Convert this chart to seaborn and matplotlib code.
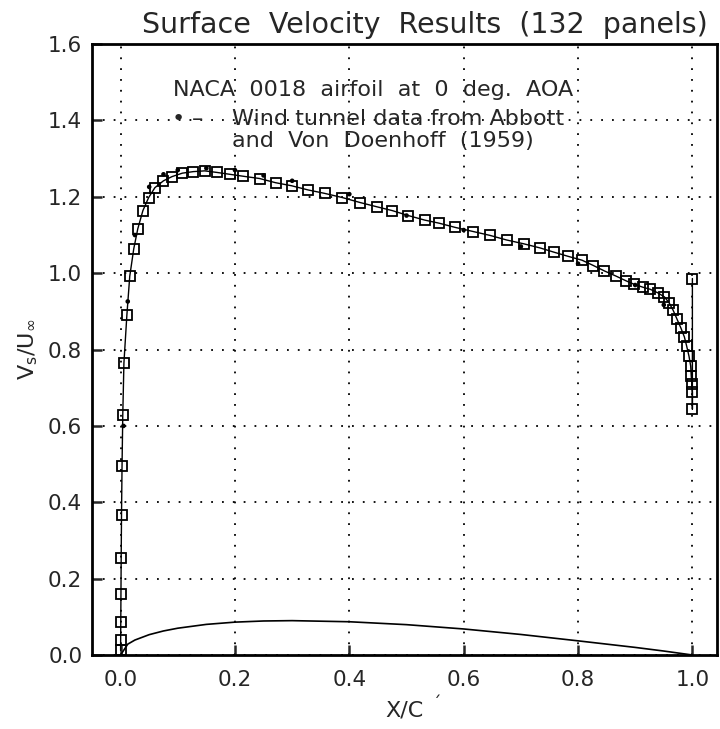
import numpy as np
import pandas as pd
import seaborn as sns
import matplotlib
matplotlib.use("Agg")
import matplotlib.pyplot as plt
from matplotlib.ticker import FormatStrFormatter

# panel-method surface velocity (132 panels), LE -> TE
panel_x = [0.0000, 0.0001, 0.0003, 0.0006, 0.0010, 0.0016, 0.0025, 0.0038, 0.0058,
           0.011, 0.016, 0.023, 0.030, 0.039, 0.049, 0.060, 0.075, 0.090, 0.108,
           0.127, 0.147, 0.168, 0.191, 0.214, 0.243, 0.271, 0.299, 0.328, 0.357,
           0.388, 0.419, 0.448, 0.475, 0.503, 0.532, 0.557, 0.585, 0.617, 0.646,
           0.675, 0.705, 0.734, 0.758, 0.783, 0.807, 0.827, 0.846, 0.867, 0.884,
           0.898, 0.914, 0.926, 0.939, 0.951, 0.959, 0.966, 0.973, 0.980, 0.986,
           0.990, 0.994, 0.997, 0.998, 0.999, 1.000, 1.000, 1.000]
panel_v = [0.012, 0.038, 0.086, 0.159, 0.253, 0.367, 0.494, 0.629, 0.765,
           0.891, 0.992, 1.064, 1.116, 1.164, 1.198, 1.224, 1.242, 1.253, 1.262,
           1.266, 1.268, 1.264, 1.259, 1.254, 1.248, 1.237, 1.229, 1.218, 1.209,
           1.198, 1.185, 1.174, 1.164, 1.151, 1.139, 1.131, 1.120, 1.109, 1.099,
           1.087, 1.077, 1.066, 1.055, 1.044, 1.034, 1.020, 1.006, 0.992, 0.980,
           0.971, 0.963, 0.958, 0.949, 0.938, 0.923, 0.904, 0.880, 0.856, 0.833,
           0.809, 0.783, 0.757, 0.731, 0.710, 0.688, 0.644, 0.986]

# wind tunnel data, Abbott and Von Doenhoff (1959)
wt_x = [0.005, 0.0125, 0.025, 0.05, 0.075, 0.10, 0.15, 0.20, 0.25, 0.30,
        0.40, 0.50, 0.60, 0.70, 0.80, 0.90, 0.95]
wt_v = [0.60, 0.926, 1.100, 1.226, 1.259, 1.270, 1.275, 1.270, 1.256, 1.242,
        1.207, 1.151, 1.113, 1.070, 1.025, 0.969, 0.917]

# NACA 0018 upper surface contour
foil_x = [0.0, 0.0125, 0.025, 0.05, 0.075, 0.10, 0.15, 0.20, 0.25, 0.30,
          0.40, 0.50, 0.60, 0.70, 0.80, 0.90, 0.95, 1.0]
foil_y = [0.0, 0.0284, 0.0392, 0.0533, 0.0630, 0.0702, 0.0802, 0.0861, 0.0891,
          0.0900, 0.0871, 0.0795, 0.0682, 0.0538, 0.0371, 0.0199, 0.0104, 0.0]

xticks = [0.0, 0.2, 0.4, 0.6, 0.8, 1.0]
yticks = [0.0, 0.2, 0.4, 0.6, 0.8, 1.0, 1.2, 1.4, 1.6]


def wide(s):
    # plotter lettering has generous word gaps
    return s.replace(" ", "  ")


sns.set_style("ticks")
plt.rcParams['font.family'] = ['DejaVu Sans']
plt.rcParams['mathtext.default'] = 'regular'

fig = plt.figure(figsize=(7.2, 7.29), dpi=100)
ax = fig.add_axes([0.1278, 0.1015, 0.868, 0.838])

panels = pd.DataFrame({"x": panel_x, "v": panel_v})
wind = pd.DataFrame({"x": wt_x, "v": wt_v})
foil = pd.DataFrame({"x": foil_x, "y": foil_y})

sns.lineplot(data=foil, x="x", y="y", ax=ax, color="black", lw=1.2,
             sort=False, estimator=None)
sns.lineplot(data=panels, x="x", y="v", ax=ax, color="black", lw=1.0,
             sort=False, estimator=None, marker="s", markersize=7.5,
             markerfacecolor="none", markeredgecolor="black", markeredgewidth=1.3)
sns.scatterplot(data=wind, x="x", y="v", ax=ax, color="black", s=11,
                edgecolor="none", zorder=5)

ax.set_xlim(-0.05, 1.043)
ax.set_ylim(0.0, 1.6)
ax.set_xticks(xticks)
ax.set_yticks(yticks)
ax.xaxis.set_major_formatter(FormatStrFormatter('%.1f'))
ax.yaxis.set_major_formatter(FormatStrFormatter('%.1f'))
ax.grid(True, color="black", linestyle=(0, (1, 5)), linewidth=1.3)
ax.tick_params(direction="in", length=7, width=1.8, labelsize=15.5)
ax.tick_params(axis="x", pad=11)
ax.tick_params(axis="y", pad=7)
for sp in ax.spines.values():
    sp.set_linewidth(2)
    sp.set_color("black")

ax.set_xlabel("X/C", fontsize=16, labelpad=7)
ax.set_ylabel("$V_s/U_\\infty$", fontsize=16, labelpad=6)
fig.text(0.59, 0.966, wide("Surface Velocity Results (132 panels)"),
         fontsize=20.5, ha="center", va="center")
fig.text(0.607, 0.034, "\u02ca", fontsize=12, ha="center", va="center")

ax.text(0.092, 1.48, wide("NACA 0018 airfoil at 0 deg. AOA"), fontsize=16, va="center")
ax.text(0.10, 1.405, "\u2022", fontsize=16, va="center", ha="center")
ax.text(0.134, 1.405, "\u2013", fontsize=16, va="center", ha="center")
ax.text(0.195, 1.405, "Wind tunnel data from Abbott", fontsize=16, va="center")
ax.text(0.195, 1.345, wide("and Von Doenhoff (1959)"), fontsize=16, va="center")

fig.savefig("out.png", dpi=100)
